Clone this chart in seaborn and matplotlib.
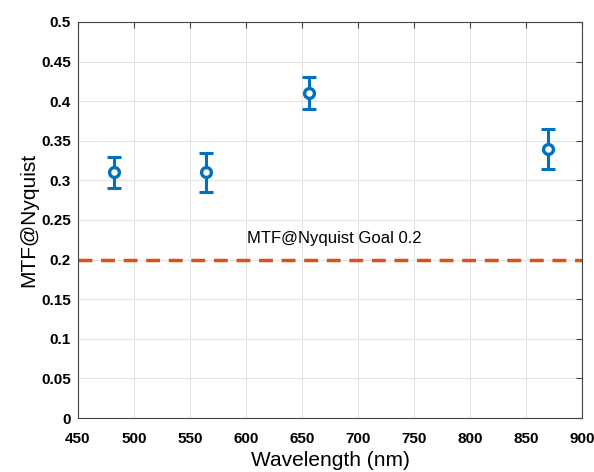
import numpy as np
import pandas as pd
import seaborn as sns
import matplotlib.pyplot as plt

# values
wavelength = [482, 564, 656, 870]
mtf = [0.31, 0.31, 0.41, 0.34]
err_low = [0.29, 0.285, 0.39, 0.315]
err_high = [0.33, 0.335, 0.43, 0.365]
goal = 0.2
goal_label = "MTF@Nyquist Goal 0.2"

df = pd.DataFrame({"wavelength": wavelength, "mtf": mtf})

sns.set_style("whitegrid", {"grid.color": "#e3e3e3", "axes.edgecolor": "#444444",
                            "text.color": "black", "xtick.color": "black",
                            "ytick.color": "black", "axes.labelcolor": "black"})
plt.rcParams["font.family"] = ["Liberation Sans", "DejaVu Sans"]

fig = plt.figure(figsize=(5.94, 4.72), dpi=100)
ax = fig.add_axes([0.131, 0.1144, 0.849, 0.839])

# goal line
ax.axhline(goal, color="#D95319", linestyle=(0, (4, 2.5)), linewidth=2.5, zorder=2)
ax.text(601, goal + 0.027, goal_label, fontsize=12, ha="left", va="center", color="black")

# error bars + open markers
yerr = [np.array(mtf) - np.array(err_low), np.array(err_high) - np.array(mtf)]
ax.errorbar(wavelength, mtf, yerr=yerr, fmt="none", ecolor="#0072BD",
            elinewidth=2.2, capsize=5, capthick=2.2, zorder=3)
sns.scatterplot(data=df, x="wavelength", y="mtf", ax=ax, marker="o", s=50,
                facecolors="white", edgecolor="#0072BD", linewidth=2.4, zorder=4)

ax.set_xlim(450, 900)
ax.set_ylim(0, 0.5)
ax.set_xticks(np.arange(450, 901, 50))
ax.set_yticks(np.arange(0, 0.501, 0.05))
ax.set_xticklabels([f"{v:g}" for v in np.arange(450, 901, 50)], fontweight="bold")
ax.set_yticklabels([f"{v:g}" for v in np.round(np.arange(0, 0.501, 0.05), 2)], fontweight="bold")
ax.tick_params(axis="both", direction="in", length=4, labelsize=11, width=0.8,
               top=True, right=True, color="#444444")
ax.tick_params(axis="x", pad=10)
ax.tick_params(axis="y", pad=5)
for s in ax.spines.values():
    s.set_linewidth(0.8)

ax.set_xlabel("Wavelength (nm)", fontsize=15, labelpad=4)
ax.set_ylabel("MTF@Nyquist", fontsize=15, labelpad=2)

fig.savefig("out.png", dpi=100)
